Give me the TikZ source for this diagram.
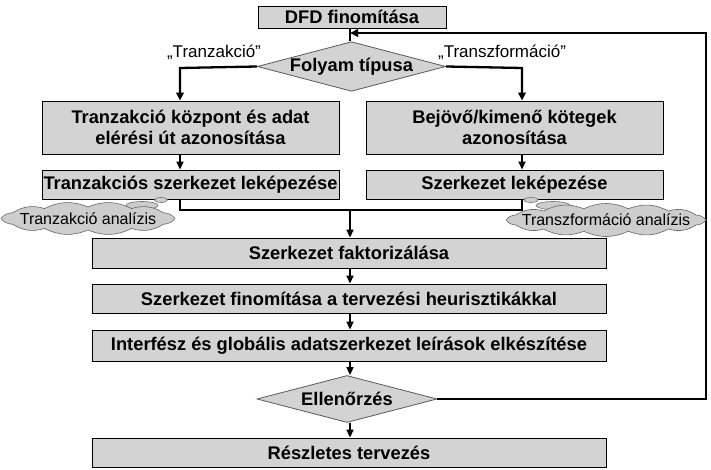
\documentclass[tikz,border=0pt]{standalone}
\usepackage{fontspec}
\setmainfont{Liberation Sans}
\usetikzlibrary{shapes.geometric,arrows.meta,calc}
\definecolor{boxgray}{RGB}{211,211,211}
\definecolor{cloudgray}{RGB}{205,205,205}
\begin{document}
\begin{tikzpicture}[x=1pt,y=-1pt,
  proc/.style={draw=black,line width=0.9pt,fill=boxgray,inner sep=0pt,align=center,
    font=\fontsize{18.3}{21.5}\selectfont\bfseries},
  decide/.style={draw=black!65,line width=0.8pt,fill=boxgray,diamond,inner sep=0pt,
    font=\fontsize{18.3}{21}\selectfont\bfseries},
  thinarrow/.style={line width=1.6pt,-{Triangle[length=8pt,width=7pt]}},
  thickline/.style={line width=2.3pt},
  thickarrow/.style={line width=2.3pt,-{Triangle[length=8pt,width=7.5pt]}},
  lbl/.style={font=\fontsize{17}{20}\selectfont},
  cloudtext/.style={inner sep=0pt,font=\fontsize{16}{18}\selectfont},
  cloudline/.style={draw=black!60,fill=cloudgray,line width=0.6pt},
  bubble/.style={ellipse,draw=black!55,fill=cloudgray,line width=0.6pt,inner sep=0pt}
]
\useasboundingbox (0,0) rectangle (711,470);

% nodes
\node[proc,minimum width=188pt,minimum height=22pt] (dfd) at (352,17) {DFD finomítása};
\node[decide,aspect=3.8,minimum width=177pt,minimum height=47pt] (fol) at (351.5,66.5) {Folyam típusa};
\node[proc,minimum width=297pt,minimum height=53pt] (lt) at (190.5,127.5) {Tranzakció központ és adat\\elérési út azonosítása};
\node[proc,minimum width=297pt,minimum height=53pt] (rt) at (514.5,127.5) {Bejövő/kimenő kötegek\\azonosítása};
\node[proc,minimum width=297pt,minimum height=29pt] (lt2) at (190.5,184.5) {Tranzakciós szerkezet leképezése};
\node[proc,minimum width=297pt,minimum height=29pt] (rt2) at (514.5,184.5) {Szerkezet leképezése};
\node[proc,minimum width=514pt,minimum height=30pt] (fakt) at (349,253) {Szerkezet faktorizálása};
\node[proc,minimum width=514pt,minimum height=29pt] (fin) at (349,298.5) {Szerkezet finomítása a tervezési heurisztikákkal};
\node[proc,minimum width=514pt,minimum height=31pt] (intf) at (349,345.5) {Interfész és globális adatszerkezet leírások elkészítése};
\node[decide,aspect=3.8,minimum width=180pt,minimum height=47pt] (ell) at (347,399) {Ellenőrzés};
\node[proc,minimum width=514pt,minimum height=29pt] (resz) at (349,452.5) {Részletes tervezés};

\node[lbl] (ltr) at (214,52) {„Tranzakció”};
\node[lbl] (ltf) at (502,52) {„Transzformáció”};

% coordinates
\coordinate (bl) at (180,68);
\coordinate (br) at (522,68);
\coordinate (ml) at (180,210);
\coordinate (mr) at (522,210);
\coordinate (mc) at (350,210);
\coordinate (lr) at (706,399);
\coordinate (lt0) at (706,33);
\coordinate (lin) at (350,33);

% connectors
\draw[line width=1.6pt] (dfd.south -| lin) -- (fol.north -| lin);
\draw[thickarrow] (fol.west) -- (bl) -- (bl |- lt.north);
\draw[thickarrow] (fol.east) -- (br) -- (br |- rt.north);
\draw[thinarrow] (bl |- lt.south) -- (bl |- lt2.north);
\draw[thinarrow] (br |- rt.south) -- (br |- rt2.north);
\draw[thickline] (ml |- lt2.south) -- (ml) -- (mr) -- (mr |- rt2.south);
\draw[thinarrow] (mc) -- (mc |- fakt.north);
\draw[thinarrow] (mc |- fakt.south) -- (mc |- fin.north);
\draw[thinarrow] (mc |- fin.south) -- (mc |- intf.north);
\draw[thinarrow] (mc |- intf.south) -- (mc |- ell.north);
\draw[thinarrow] (mc |- ell.south) -- (mc |- resz.north);
\draw[thickarrow] (ell.east) -- (lr) -- (lt0) -- (lin);

% clouds
\node[bubble,minimum width=13pt,minimum height=5pt] (b1) at (161,200) {};
\node[bubble,minimum width=32pt,minimum height=8pt] (b2) at (142,205.5) {};
\path[cloudline] (88+87,218.5)
  \foreach \i in {1,...,12} { to[bend left=24] ({88+87*cos(\i*30)},{218.5+11.5*sin(\i*30)}) } -- cycle;
\node[cloudtext] (cl) at (88,218.5) {Tranzakció analízis};

\node[bubble,minimum width=14pt,minimum height=5pt] (b3) at (531,200) {};
\node[bubble,minimum width=34pt,minimum height=8pt] (b4) at (553,205.5) {};
\path[cloudline] (606+100,220)
  \foreach \i in {1,...,14} { to[bend left=24] ({606+100*cos(\i*360/14)},{220+11.5*sin(\i*360/14)}) } -- cycle;
\node[cloudtext] (cr) at (606,220) {Transzformáció analízis};
\end{tikzpicture}
\end{document}
